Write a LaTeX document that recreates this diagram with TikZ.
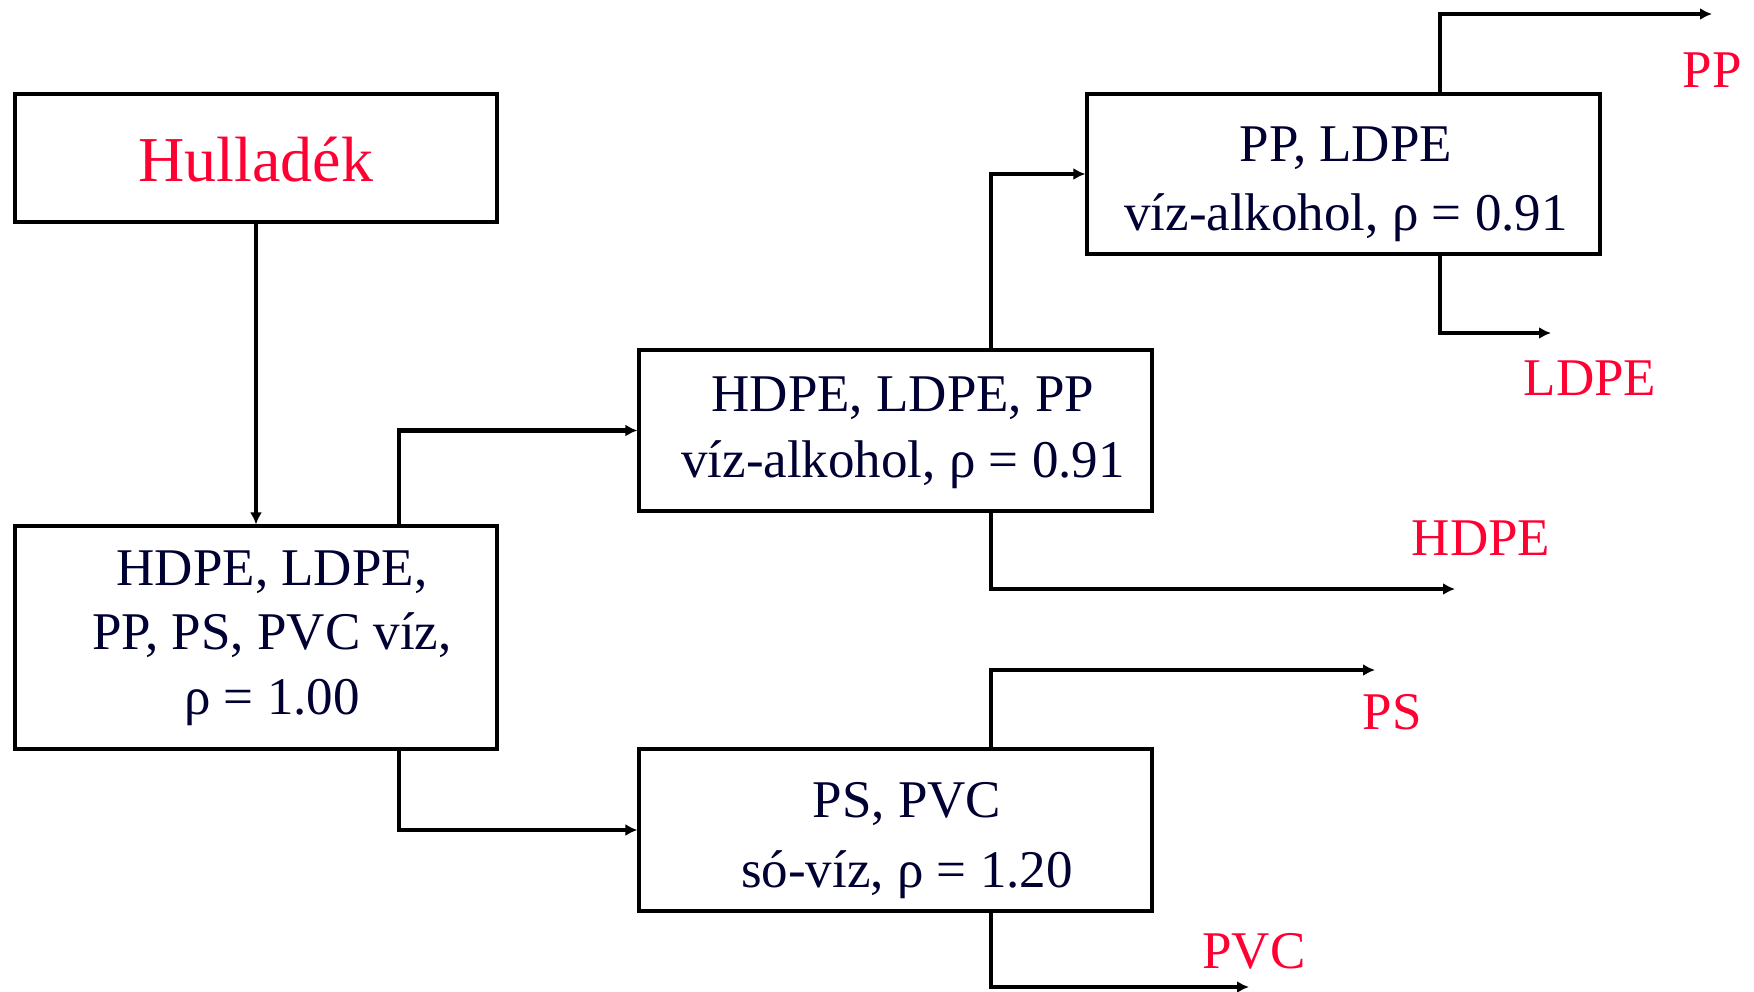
\documentclass[tikz,border=0pt]{standalone}
\usepackage{fontspec}
\setmainfont{Liberation Serif}
\usetikzlibrary{arrows.meta}
\definecolor{navy}{HTML}{000033}
\definecolor{lred}{HTML}{FF0033}
\begin{document}
\begin{tikzpicture}[x=0.5pt,y=-0.5pt,
  box/.style={draw=black, line width=1.6pt, inner sep=0pt, fill=white},
  wide/.style={minimum width=256.5pt},
  txt/.style={text=navy, align=center, inner sep=0pt, font=\fontsize{26.5pt}{33pt}\selectfont},
  lab/.style={text=lred, inner sep=0pt, font=\fontsize{26.5pt}{33pt}\selectfont},
  arr/.style={line width=2.4pt, -{Latex[length=6pt,width=6pt]}}]
\useasboundingbox (0,0) rectangle (1754,991);

% boxes
\node[box, minimum width=241pt, minimum height=64pt] (hull) at (256,158) {};
\node[box, minimum width=241pt, minimum height=111.5pt] (mix) at (256,637.5) {};
\node[box, wide, minimum height=80.5pt] (b3) at (895.5,430.5) {};
\node[box, wide, minimum height=80pt] (b4) at (1343.5,174) {};
\node[box, wide, minimum height=81pt] (b5) at (895.5,830) {};

% box texts
\node[lab, font=\fontsize{32pt}{38pt}\selectfont] (hullt) at (256,160) {Hulladék};
\node[txt, font=\fontsize{26.5pt}{32.3pt}\selectfont] (mixt) at (272,638) {HDPE, LDPE,\\PP, PS, PVC víz,\\ρ = 1.00};
\node[txt] (b3t) at (903,433) {HDPE, LDPE, PP\\víz-alkohol, ρ = 0.91};
\node[txt, font=\fontsize{26.5pt}{34.5pt}\selectfont] (b4t) at (1346,184) {PP, LDPE\\víz-alkohol, ρ = 0.91};
\node[txt, font=\fontsize{26.5pt}{35pt}\selectfont] (b5t) at (907,841) {PS, PVC\\só-víz, ρ = 1.20};

% free ends
\coordinate (ppend) at (1712,14);
\coordinate (ldpeend) at (1551,333);
\coordinate (hdpeend) at (1455,589);
\coordinate (psend) at (1375,670);
\coordinate (pvcend) at (1249,987);

% connectors
\draw[arr] (hull) -- (mix);
\draw[arr] ([xshift=71.5pt]mix.north) |- (b3.west);
\draw[arr] ([xshift=71.5pt]mix.south) |- (b5.west);
\draw[arr] ([xshift=47.75pt]b3.north) |- (b4.west);
\draw[arr] ([xshift=47.75pt]b3.south) |- (hdpeend);
\draw[arr] ([xshift=48.25pt]b4.north) |- (ppend);
\draw[arr] ([xshift=48.25pt]b4.south) |- (ldpeend);
\draw[arr] ([xshift=47.75pt]b5.north) |- (psend);
\draw[arr] ([xshift=47.75pt]b5.south) |- (pvcend);

% output labels
\node[lab] (lpp) at (1712,70) {PP};
\node[lab] (lldpe) at (1590,378) {LDPE};
\node[lab] (lhdpe) at (1481,538) {HDPE};
\node[lab] (lps) at (1392,712) {PS};
\node[lab] (lpvc) at (1254,951) {PVC};
\end{tikzpicture}
\end{document}
